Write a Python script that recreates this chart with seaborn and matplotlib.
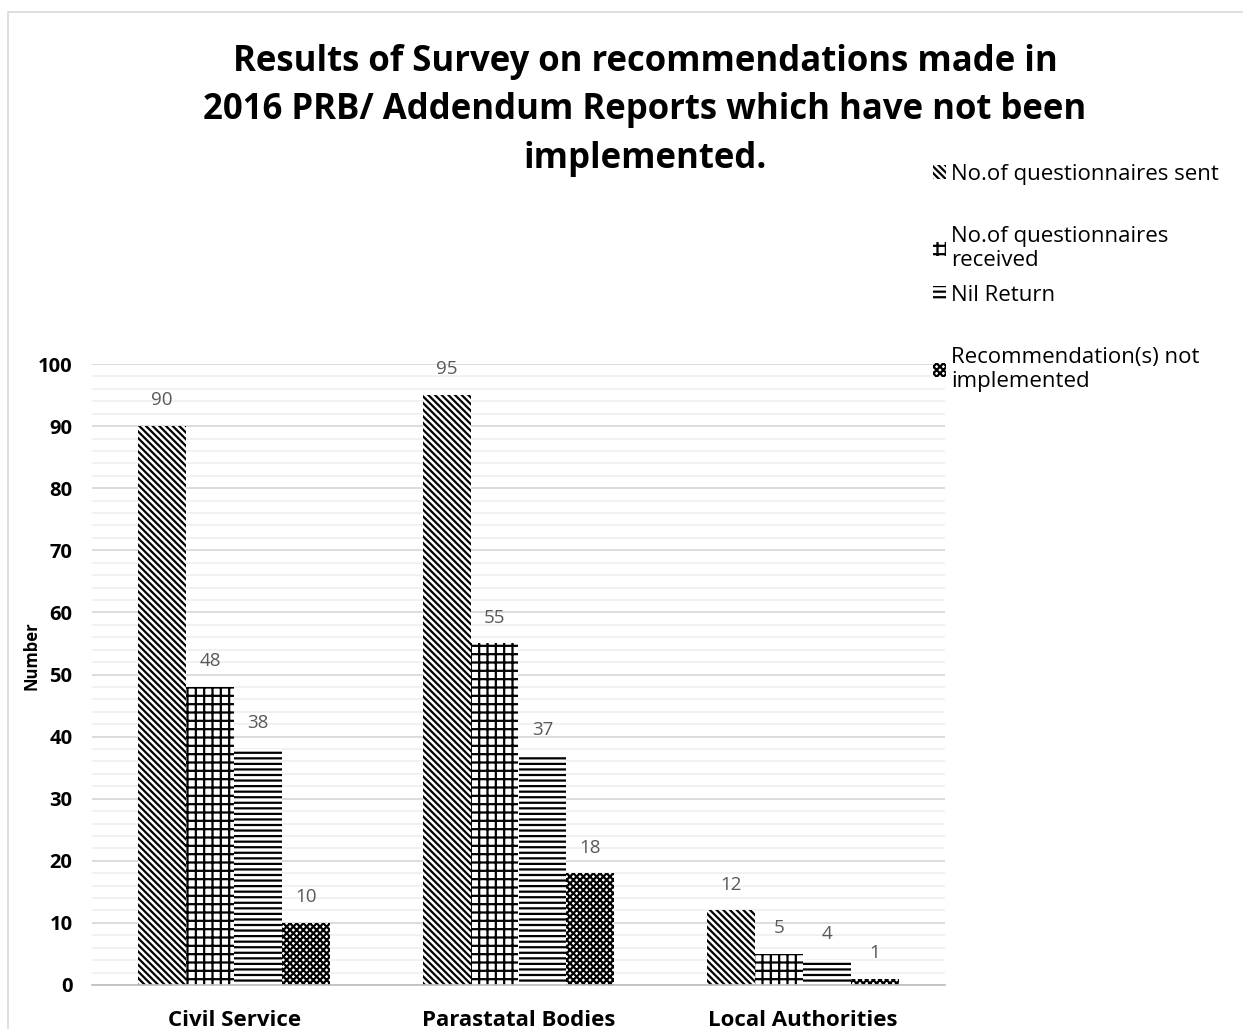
import numpy as np
import pandas as pd
import seaborn as sns
import matplotlib.pyplot as plt
from matplotlib.ticker import MultipleLocator
from matplotlib.patches import Patch, Rectangle

categories = ["Civil Service", "Parastatal Bodies", "Local Authorities"]
series = ["No.of questionnaires sent", "No.of questionnaires\nreceived",
          "Nil Return", "Recommendation(s) not\nimplemented"]
sent = [90, 95, 12]
received = [48, 55, 5]
nil_return = [38, 37, 4]
not_implemented = [10, 18, 1]
title_lines = ["Results of Survey on recommendations made in",
               "2016 PRB/ Addendum Reports which have not been",
               "implemented."]

hatches = ["\\\\\\\\\\", "++", "---", "xxxxx"]

df = pd.DataFrame({
    "Category": categories * 4,
    "Series": np.repeat(series, 3),
    "Value": sent + received + nil_return + not_implemented,
})

sns.set_theme(style="white")
plt.rcParams["font.family"] = ["Open Sans", "DejaVu Sans"]
plt.rcParams["hatch.linewidth"] = 1.6

fig = plt.figure(figsize=(12.43, 10.29), dpi=100)
ax = fig.add_axes([92 / 1243, 1 - 985 / 1029, 853 / 1243, 621 / 1029])

sns.barplot(data=df, x="Category", y="Value", hue="Series", ax=ax,
            width=0.675, edgecolor="none", linewidth=0,
            palette=["white"] * 4, legend=False)

for i, cont in enumerate(ax.containers):
    for bar in cont:
        bar.set_hatch(hatches[i])
        bar.set_edgecolor("black")
        bar.set_linewidth(0)
    ax.bar_label(cont, padding=12, fontsize=13.5, color="#595959")

ax.set_ylim(0, 100)
ax.set_xlim(-0.5, 2.5)
ax.yaxis.set_major_locator(MultipleLocator(10))
ax.yaxis.set_minor_locator(MultipleLocator(2))
ax.grid(axis="y", which="major", color="#d9d9d9", linewidth=1.3)
ax.grid(axis="y", which="minor", color="#f0f0f0", linewidth=1.3)
ax.set_axisbelow(True)
for s in ["top", "right", "left"]:
    ax.spines[s].set_visible(False)
ax.spines["bottom"].set_color("#bfbfbf")
ax.tick_params(axis="y", length=0, labelsize=14.5, pad=14, labelcolor="black")
ax.tick_params(axis="x", length=0, labelsize=16, pad=18, labelcolor="black")
for lab in ax.get_yticklabels() + ax.get_xticklabels():
    lab.set_fontweight("bold")
ax.set_xlabel("")
ax.set_ylabel("Number", fontsize=12, fontweight="bold", color="black")
ax.yaxis.set_label_coords(-0.06, 0.53)

# one legend per entry, each at its own slot like the original
slot_tops = [153, 215, 274, 336]
for i, lbl in enumerate(series):
    h = Patch(facecolor="white", edgecolor="black", hatch=hatches[i], linewidth=0)
    fig.legend([h], [lbl], loc="upper left",
               bbox_to_anchor=(922 / 1243, 1 - slot_tops[i] / 1029),
               frameon=False, fontsize=16, handlelength=0.6, handleheight=0.6,
               handletextpad=0.2, borderpad=0, labelcolor="black")

# title, line by line
for line, yc in zip(title_lines, [62, 110, 159]):
    fig.text(645 / 1243, 1 - yc / 1029, line, ha="center", va="center",
             fontsize=25, fontweight="bold", color="black")

fig.patches.append(Rectangle((8 / 1243, -0.01), 1.2, 1 - 12 / 1029 + 0.01,
                             transform=fig.transFigure, fill=False,
                             edgecolor="#d9d9d9", linewidth=1.2))

fig.savefig("out.png", dpi=100)
